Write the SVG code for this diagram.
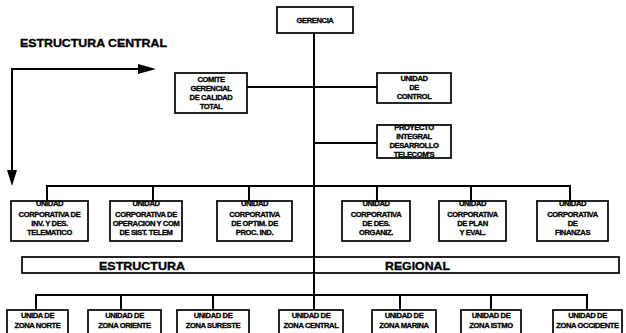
<svg xmlns="http://www.w3.org/2000/svg" width="626" height="333" viewBox="0 0 626 333">
  <defs>
    <style>
      .box { fill: #fff; stroke: #000; stroke-width: 1.7; }
      .ln { fill: none; stroke: #000; stroke-width: 2; }
      .head { fill: #000; }
      .t { font-family: "Liberation Sans", Arial, sans-serif; font-weight: bold; font-size: 7.6px; fill: #000; stroke: #000; stroke-width: 0.3; text-anchor: middle; letter-spacing: -0.4px; }
      .big { font-family: "Liberation Sans", Arial, sans-serif; font-weight: bold; font-size: 11.5px; fill: #000; stroke: #000; stroke-width: 0.35; }
    </style>
  </defs>

  <rect width="626" height="333" fill="#fff"/>

  <text class="big" x="20" y="47" textLength="147" lengthAdjust="spacingAndGlyphs">ESTRUCTURA CENTRAL</text>

  <!-- connectors -->
  <g id="connectors">
    <!-- corner arrows -->
    <path class="ln" d="M12,172 L12,69 L140,69"/>
    <polygon class="head" points="138,64 156,69 138,74"/>
    <polygon class="head" points="7,170 12,186 17,170"/>
    <!-- main trunk -->
    <line class="ln" x1="314" y1="33" x2="314" y2="310"/>
    <!-- staff units -->
    <line class="ln" x1="247" y1="87" x2="377" y2="87"/>
    <line class="ln" x1="314" y1="143" x2="377" y2="143"/>
    <!-- corporate bus -->
    <path class="ln" d="M47,201 L47,186 L570,186 L570,201"/>
    <line class="ln" x1="153" y1="186" x2="153" y2="201"/>
    <line class="ln" x1="249" y1="186" x2="249" y2="201"/>
    <line class="ln" x1="377" y1="186" x2="377" y2="201"/>
    <line class="ln" x1="471" y1="186" x2="471" y2="201"/>
    <!-- regional bus -->
    <path class="ln" d="M36,310 L36,295 L587,295 L587,310"/>
    <line class="ln" x1="121" y1="295" x2="121" y2="310"/>
    <line class="ln" x1="213" y1="295" x2="213" y2="310"/>
    <line class="ln" x1="400" y1="295" x2="400" y2="310"/>
    <line class="ln" x1="491" y1="295" x2="491" y2="310"/>
  </g>

  <g id="gerencia">
    <rect class="box" x="277" y="7" width="76" height="26"/>
    <text class="t" x="315" y="23">GERENCIA</text>
  </g>

  <g id="comite">
    <rect class="box" x="175" y="73" width="72" height="40"/>
    <text class="t" x="211" y="82">COMITE</text>
    <text class="t" x="211" y="91">GERENCIAL</text>
    <text class="t" x="211" y="100">DE CALIDAD</text>
    <text class="t" x="211" y="109">TOTAL</text>
  </g>

  <g id="control">
    <rect class="box" x="377" y="73" width="74" height="30"/>
    <text class="t" x="414" y="81">UNIDAD</text>
    <text class="t" x="414" y="90">DE</text>
    <text class="t" x="414" y="99">CONTROL</text>
  </g>

  <g id="proyecto">
    <rect class="box" x="377" y="125" width="74" height="33"/>
    <text class="t" x="414" y="130">PROYECTO</text>
    <text class="t" x="414" y="139">INTEGRAL</text>
    <text class="t" x="414" y="148">DESARROLLO</text>
    <text class="t" x="414" y="157">TELECOM'S</text>
  </g>

  <g id="corp-telematico">
    <rect class="box" x="11" y="201" width="77" height="40"/>
    <text class="t" x="49.5" y="206">UNIDAD</text>
    <text class="t" x="49.5" y="217">CORPORATIVA DE</text>
    <text class="t" x="49.5" y="226">INV. Y DES.</text>
    <text class="t" x="49.5" y="235">TELEMATICO</text>
  </g>

  <g id="corp-operacion">
    <rect class="box" x="110" y="201" width="72" height="40"/>
    <text class="t" x="146" y="206">UNIDAD</text>
    <text class="t" x="146" y="217">CORPORATIVA DE</text>
    <text class="t" x="146" y="226">OPERACION Y COM</text>
    <text class="t" x="146" y="235">DE SIST. TELEM</text>
  </g>

  <g id="corp-optim">
    <rect class="box" x="217" y="201" width="75" height="40"/>
    <text class="t" x="254.5" y="206">UNIDAD</text>
    <text class="t" x="254.5" y="217">CORPORATIVA</text>
    <text class="t" x="254.5" y="226">DE OPTIM. DE</text>
    <text class="t" x="254.5" y="235">PROC. IND.</text>
  </g>

  <g id="corp-organiz">
    <rect class="box" x="342" y="201" width="68" height="40"/>
    <text class="t" x="376" y="206">UNIDAD</text>
    <text class="t" x="376" y="217">CORPORATIVA</text>
    <text class="t" x="376" y="226">DE DES.</text>
    <text class="t" x="376" y="235">ORGANIZ.</text>
  </g>

  <g id="corp-plan">
    <rect class="box" x="439" y="201" width="67" height="40"/>
    <text class="t" x="472.5" y="206">UNIDAD</text>
    <text class="t" x="472.5" y="217">CORPORATIVA</text>
    <text class="t" x="472.5" y="226">DE PLAN</text>
    <text class="t" x="472.5" y="235">Y EVAL.</text>
  </g>

  <g id="corp-finanzas">
    <rect class="box" x="537" y="201" width="71" height="40"/>
    <text class="t" x="572.5" y="206">UNIDAD</text>
    <text class="t" x="572.5" y="217">CORPORATIVA</text>
    <text class="t" x="572.5" y="226">DE</text>
    <text class="t" x="572.5" y="235">FINANZAS</text>
  </g>

  <g id="banda-regional">
    <rect class="box" x="22" y="257" width="597" height="16"/>
    <line class="ln" x1="314" y1="257" x2="314" y2="273"/>
    <text class="big" x="99" y="269.5" textLength="86" lengthAdjust="spacingAndGlyphs">ESTRUCTURA</text>
    <text class="big" x="385" y="269.5" textLength="65" lengthAdjust="spacingAndGlyphs">REGIONAL</text>
  </g>

  <g id="zona-norte">
    <rect class="box" x="7" y="310" width="61" height="28"/>
    <text class="t" x="37.5" y="318">UNIDA DE</text>
    <text class="t" x="37.5" y="328">ZONA NORTE</text>
  </g>

  <g id="zona-oriente">
    <rect class="box" x="88" y="310" width="73" height="28"/>
    <text class="t" x="124.5" y="318">UNIDAD DE</text>
    <text class="t" x="124.5" y="328">ZONA ORIENTE</text>
  </g>

  <g id="zona-sureste">
    <rect class="box" x="177" y="310" width="72" height="28"/>
    <text class="t" x="213" y="318">UNIDAD DE</text>
    <text class="t" x="213" y="328">ZONA SURESTE</text>
  </g>

  <g id="zona-central">
    <rect class="box" x="279" y="310" width="64" height="28"/>
    <text class="t" x="311" y="318">UNIDAD DE</text>
    <text class="t" x="311" y="328">ZONA CENTRAL</text>
  </g>

  <g id="zona-marina">
    <rect class="box" x="372" y="310" width="64" height="28"/>
    <text class="t" x="404" y="318">UNIDAD DE</text>
    <text class="t" x="404" y="328">ZONA MARINA</text>
  </g>

  <g id="zona-istmo">
    <rect class="box" x="461" y="310" width="60" height="28"/>
    <text class="t" x="491" y="318">UNIDAD DE</text>
    <text class="t" x="491" y="328">ZONA ISTMO</text>
  </g>

  <g id="zona-occidente">
    <rect class="box" x="553" y="310" width="69" height="28"/>
    <text class="t" x="587.5" y="318">UNIDAD DE</text>
    <text class="t" x="587.5" y="328">ZONA OCCIDENTE</text>
  </g>
</svg>
